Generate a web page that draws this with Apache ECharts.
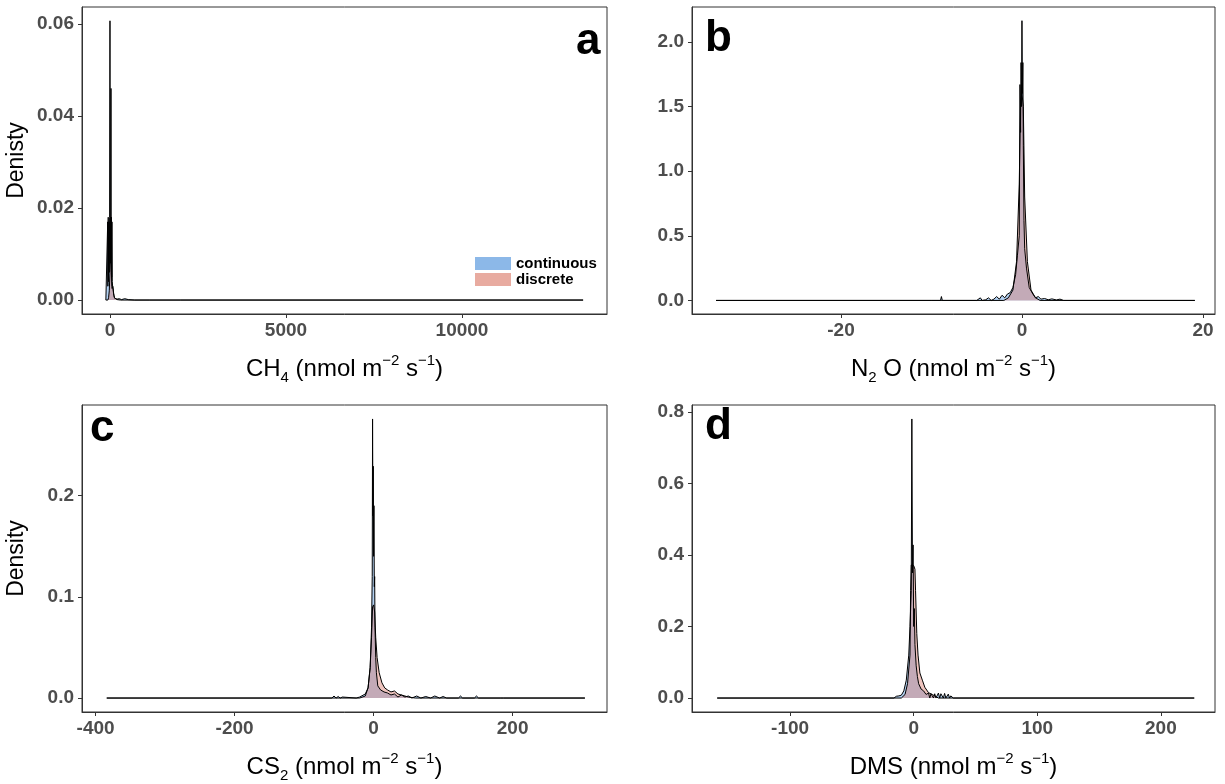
<!DOCTYPE html>
<html><head><meta charset="utf-8">
<script src="https://cdn.jsdelivr.net/npm/echarts@6/dist/echarts.min.js"></script>
<style>html,body{margin:0;padding:0;background:#fff}#c{width:1225px;height:784px}</style>
</head><body><div id="c"></div>
<script>
// ---------- data ----------
// Panel a: CH4
const ch4ContX = [-117, -80, -65, -60, -50, -40, -30, -20, -10, 0, 8, 16, 24, 28, 32, 40, 48, 56, 65, 75, 90, 110, 130, 160, 200, 260, 330, 420, 520, 700, 1130, 1155, 1180, 2000, 13441];
const ch4ContY = [0, 0, 0.017, 0.003, 0.018, 0.004, 0.017, 0.006, 0.018, 0.0607, 0.008, 0.018, 0.01, 0.046, 0.012, 0.018, 0.005, 0.017, 0.004, 0.003, 0.0025, 0.001, 0.0004, 0.0003, 0.0002, 0.0003, 0.0001, 0.0003, 0.0001, 0, 0, 0.0002, 0, 0, 0];
const ch4DiscX = [-117, -60, -40, -20, 0, 10, 20, 30, 40, 50, 60, 80, 100, 130, 160, 200, 300, 13441];
const ch4DiscY = [0, 0, 0.0005, 0.002, 0.006, 0.0085, 0.01, 0.0095, 0.006, 0.003, 0.0025, 0.003, 0.0015, 0.0005, 0.0002, 0.0001, 0, 0];
// Panel b: N2O
const n2oContX = [-33.8, -10, -9, -8.9, -8.8, -5, -4.6, -4.4, -4.2, -4, -3.7, -3.4, -3.1, -2.8, -2.5, -2.2, -1.9, -1.6, -1.3, -1.0, -0.7, -0.5, -0.3, -0.22, -0.15, -0.1, -0.05, 0, 0.05, 0.1, 0.15, 0.22, 0.3, 0.5, 0.8, 1.2, 1.5, 1.8, 2.1, 2.5, 2.9, 3.3, 3.8, 4.2, 4.6, 19.1];
const n2oContY = [0, 0, 0, 0.03, 0, 0, 0.02, 0, 0.015, 0.005, 0.02, 0, 0.01, 0.03, 0.01, 0.04, 0.02, 0.05, 0.06, 0.1, 0.2, 0.35, 0.5, 1.67, 1.3, 1.84, 1.5, 2.164, 1.6, 1.84, 1.2, 0.62, 0.4, 0.25, 0.1, 0.05, 0.02, 0.03, 0.01, 0.015, 0.005, 0.012, 0.004, 0.01, 0, 0];
const n2oDiscX = [-33.8, -2, -1.5, -1, -0.6, -0.3, -0.15, 0, 0.15, 0.3, 0.6, 1, 1.5, 2, 19.1];
const n2oDiscY = [0, 0, 0.02, 0.08, 0.3, 0.9, 1.55, 1.6, 1.5, 0.8, 0.3, 0.08, 0.02, 0, 0];
// Panel c: CS2
const cs2ContX = [-384, -60, -57, -54, -51, -48, -45, -25, -20, -12, -8, -5, -3, -2, -1.5, -1, -0.5, 0, 0.5, 1, 1.5, 2, 3, 4, 6, 10, 15, 20, 25, 30, 35, 40, 45, 50, 55, 62, 68, 75, 82, 88, 95, 100, 105, 122, 125, 128, 145, 148, 151, 183, 185, 187, 304];
const cs2ContY = [0, 0, 0.002, 0, 0.0015, 0, 0.001, 0, 0.001, 0.004, 0.01, 0.03, 0.07, 0.12, 0.2757, 0.18, 0.229, 0.14, 0.19, 0.11, 0.12, 0.07, 0.04, 0.025, 0.012, 0.008, 0.006, 0.005, 0.003, 0.004, 0.001, 0.003, 0.001, 0.002, 0, 0.002, 0, 0.0015, 0, 0.002, 0, 0.0015, 0, 0, 0.002, 0, 0, 0.002, 0, 0, 0.0015, 0, 0];
const cs2DiscX = [-384, -20, -12, -8, -5, -3, -1.5, 0, 1.5, 3, 5, 8, 12, 16, 20, 25, 30, 35, 40, 50, 60, 304];
const cs2DiscY = [0, 0, 0.002, 0.01, 0.03, 0.06, 0.09, 0.092, 0.085, 0.06, 0.04, 0.025, 0.015, 0.01, 0.008, 0.006, 0.007, 0.004, 0.003, 0.001, 0, 0];
// Panel d: DMS
const dmsContX = [-159, -16, -14, -13, -12, -10, -8, -6, -4, -3, -2, -1.5, -1, -0.5, 0, 0.5, 1, 2, 3, 4, 6, 8, 10, 12, 13, 14, 16, 17, 18, 20, 21, 22, 24, 25, 26, 28, 29, 30, 32, 227];
const dmsContY = [0, 0, 0.005, 0, 0.006, 0.008, 0.02, 0.05, 0.12, 0.2, 0.3, 0.78, 0.35, 0.428, 0.2, 0.25, 0.15, 0.09, 0.06, 0.04, 0.025, 0.02, 0.01, 0.014, 0, 0.012, 0, 0.012, 0, 0.014, 0, 0.012, 0, 0.013, 0, 0.011, 0, 0.006, 0, 0];
const dmsDiscX = [-159, -10, -7, -5, -3, -2.5, -2, -1, 0, 1, 1.5, 2.5, 3.5, 5, 7, 9, 12, 15, 20, 227];
const dmsDiscY = [0, 0, 0.01, 0.04, 0.12, 0.3, 0.372, 0.372, 0.37, 0.36, 0.3, 0.18, 0.12, 0.07, 0.05, 0.03, 0.015, 0.01, 0, 0];

// tick values
const ch4XTicks = [0, 5000, 10000];
const ch4YTicks = [0, 0.02, 0.04, 0.06];
const n2oXTicks = [-20, 0, 20];
const n2oYTicks = [0, 0.5, 1.0, 1.5, 2.0];
const cs2XTicks = [-400, -200, 0, 200];
const cs2YTicks = [0, 0.1, 0.2];
const dmsXTicks = [-100, 0, 100, 200];
const dmsYTicks = [0, 0.2, 0.4, 0.6, 0.8];

const seriesNames = ['continuous', 'discrete'];
const panelLetters = ['a', 'b', 'c', 'd'];

// ---------- chart ----------
const FONT = "'Liberation Sans', Arial, sans-serif";
const zip = (xs, ys) => xs.map((x, i) => [x, ys[i]]);
const contFill = 'rgba(80,150,225,0.62)';
const discFill = 'rgba(215,120,105,0.62)';

const grids = [
  {left: 82, top: 7, width: 525, height: 307},
  {left: 692, top: 7, width: 523, height: 307},
  {left: 82, top: 405, width: 525, height: 307},
  {left: 692, top: 405, width: 523, height: 307}
].map(g => Object.assign(g, {show: true, borderColor: '#333', borderWidth: 1, containLabel: false}));

const richName = {
  m: {fontSize: 24, fontFamily: FONT, color: '#000', lineHeight: 32, verticalAlign: 'middle'},
  sub: {fontSize: 15, fontFamily: FONT, color: '#000', lineHeight: 15, verticalAlign: 'bottom'},
  sup: {fontSize: 15, fontFamily: FONT, color: '#000', lineHeight: 15, verticalAlign: 'top'}
};
const unit = '{m| (nmol m}{sup|−2}{m| s}{sup|−1}{m|)}';
const xNames = [
  '{m|CH}{sub|4}' + unit,
  '{m|N}{sub|2}{m| O}' + unit,
  '{m|CS}{sub|2}' + unit,
  '{m|DMS}' + unit
];
const xRanges = [[-795, 14120], [-36.46, 21.33], [-419.6, 335.8], [-179.4, 243.8]];
const yRanges = [[-0.00303, 0.0637], [-0.105, 2.27], [-0.0138, 0.2895], [-0.039, 0.819]];
const xTicks = [ch4XTicks, n2oXTicks, cs2XTicks, dmsXTicks];
const yTicks = [ch4YTicks, n2oYTicks, cs2YTicks, dmsYTicks];
const yDec = [2, 1, 1, 1];
const yNames = ['Denisty', '', 'Density', ''];

const labelStyle = {color: '#4d4d4d', fontWeight: 'bold', fontSize: 19, fontFamily: FONT};

const xAxis = xRanges.map((r, i) => ({
  type: 'value', gridIndex: i, min: r[0], max: r[1],
  name: xNames[i], nameLocation: 'middle', nameGap: 39,
  nameTextStyle: {rich: richName},
  axisLine: {show: true, onZero: false, lineStyle: {color: '#333', width: 1}},
  axisTick: {show: true, length: 4, lineStyle: {color: '#333'}, customValues: xTicks[i]},
  axisLabel: Object.assign({margin: 7, customValues: xTicks[i], formatter: v => String(v)}, labelStyle),
  splitLine: {show: false}
}));
const yAxis = yRanges.map((r, i) => ({
  type: 'value', gridIndex: i, min: r[0], max: r[1],
  name: yNames[i], nameLocation: 'middle', nameGap: 54, nameRotate: 90,
  nameTextStyle: {fontSize: 23, fontFamily: FONT, color: '#000'},
  axisLine: {show: true, onZero: false, lineStyle: {color: '#333', width: 1}},
  axisTick: {show: true, length: 4, lineStyle: {color: '#333'}, customValues: yTicks[i]},
  axisLabel: Object.assign({margin: 8, customValues: yTicks[i], formatter: v => v.toFixed(yDec[i])}, labelStyle),
  splitLine: {show: false}
}));

const panelData = [
  [zip(ch4ContX, ch4ContY), zip(ch4DiscX, ch4DiscY)],
  [zip(n2oContX, n2oContY), zip(n2oDiscX, n2oDiscY)],
  [zip(cs2ContX, cs2ContY), zip(cs2DiscX, cs2DiscY)],
  [zip(dmsContX, dmsContY), zip(dmsDiscX, dmsDiscY)]
];
const series = [];
panelData.forEach((pd, i) => {
  pd.forEach((d, k) => {
    series.push({
      name: seriesNames[k], type: 'line', xAxisIndex: i, yAxisIndex: i,
      data: d, showSymbol: false, symbol: 'none', smooth: false,
      lineStyle: {color: '#000', width: 1},
      itemStyle: {color: k === 0 ? '#8cb8e8' : '#e8aba0'},
      areaStyle: {color: k === 0 ? contFill : discFill},
      emphasis: {disabled: true}, silent: true, animation: false
    });
  });
});

const letterPos = [[576, 20], [705, 17], [90, 407], [705, 405]];
const title = panelLetters.map((t, i) => ({
  text: t, left: letterPos[i][0], top: letterPos[i][1], padding: 0,
  textStyle: {fontSize: 44, fontWeight: 'bold', color: '#000', fontFamily: FONT}
}));

const chart = echarts.init(document.getElementById('c'), null, {renderer: 'canvas'});
chart.setOption({
  animation: false,
  backgroundColor: '#fff',
  title,
  grid: grids,
  xAxis, yAxis, series,
  legend: {
    data: [
      {name: 'continuous', itemStyle: {color: '#8cb8e8', borderWidth: 0}},
      {name: 'discrete', itemStyle: {color: '#e8aba0', borderWidth: 0}}
    ],
    orient: 'vertical', left: 475, top: 256, padding: 0,
    itemWidth: 36, itemHeight: 13, itemGap: 1, icon: 'rect', selectedMode: false,
    textStyle: {fontSize: 15, fontWeight: 'bold', color: '#000', fontFamily: FONT}
  }
});
</script></body></html>
